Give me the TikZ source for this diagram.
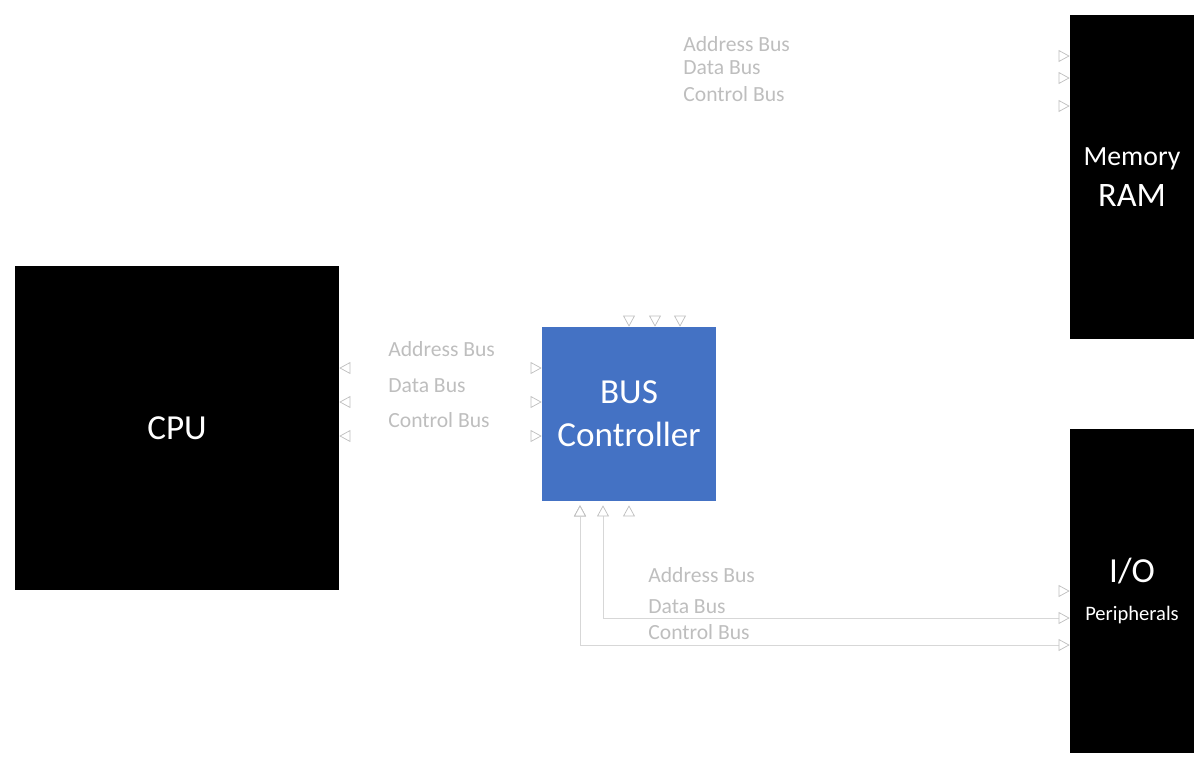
\documentclass[tikz,border=0pt]{standalone}
\usepackage{fontspec}
\setmainfont{Carlito}
\usepackage{xcolor}
\definecolor{busblue}{RGB}{68, 114, 196}
\definecolor{labelgrey}{RGB}{190, 190, 190}
\definecolor{linegrey}{RGB}{215, 215, 215}
\usepackage{tikz}
\usetikzlibrary{arrows.meta, calc}

\tikzset{
  unit/.style={fill=black, text=white, align=center, inner sep=0pt,
    font=\fontsize{20}{24.4}\selectfont},
  buslabel/.style={anchor=west, inner sep=0pt, text=labelgrey,
    font=\fontsize{12.3}{14}\selectfont},
  busline/.style={draw=white,
    {Triangle[length=6.3pt,width=6.8pt,color=labelgrey,fill=white]}-{Triangle[length=6.3pt,width=6.8pt,color=labelgrey,fill=white]}},
  elbow/.style={to path={|- (\tikztotarget)}}
}

\begin{document}
\begin{tikzpicture}[x=0.02cm, y=-0.02cm]
  \useasboundingbox (0,0) rectangle (1204,768);
  \node[unit, minimum width=6.48cm, minimum height=6.48cm] (cpu) at (177,428) {CPU};
  \node[unit, fill=busblue, minimum width=3.48cm, minimum height=3.48cm] (bus) at (629,414) {BUS\\Controller};
  \node[unit, minimum width=2.48cm, minimum height=6.48cm] (ram) at (1132,177)
    {\fontsize{15.8}{21.5}\selectfont Memory\\[-1pt]{\fontsize{19.5}{21.5}\selectfont RAM}};
  \node[unit, minimum width=2.48cm, minimum height=6.48cm] (io) at (1132,591)
    {I/O\\[-3pt]{\fontsize{11.7}{14}\selectfont Peripherals}};

  % labels
  \node[buslabel] (cpuaddr) at (388,349) {Address Bus};
  \node[buslabel] (cpudata) at (388,386) {Data Bus};
  \node[buslabel] (cpuctrl) at (388,420) {Control Bus};
  \node[buslabel] (ramaddr) at (683,44) {Address Bus};
  \node[buslabel] (ramdata) at (683,68) {Data Bus};
  \node[buslabel] (ramctrl) at (683,94) {Control Bus};
  \node[buslabel] (ioaddr) at (648,575) {Address Bus};
  \node[buslabel] (iodata) at (648,607) {Data Bus};
  \node[buslabel] (ioctrl) at (648,632) {Control Bus};

  \path[busline]
    (cpu.east |- 0,368) edge (bus.west |- 0,368)
    (cpu.east |- 0,402) edge (bus.west |- 0,402)
    (cpu.east |- 0,436) edge (bus.west |- 0,436)
    (bus.north -| 629,0) edge[elbow] (ram.west |- 0,56)
    (bus.north -| 655,0) edge[elbow] (ram.west |- 0,78)
    (bus.north -| 680,0) edge[elbow] (ram.west |- 0,106)
    ($(bus.south -| 629,0)+(0,4)$) edge[elbow] (io.west |- 0,591)
    ($(bus.south -| 603,0)+(0,4)$) edge[elbow, draw=linegrey] (io.west |- 0,618)
    ($(bus.south -| 580,0)+(0,4)$) edge[elbow, draw=linegrey] (io.west |- 0,645)
    ;
\end{tikzpicture}
\end{document}
